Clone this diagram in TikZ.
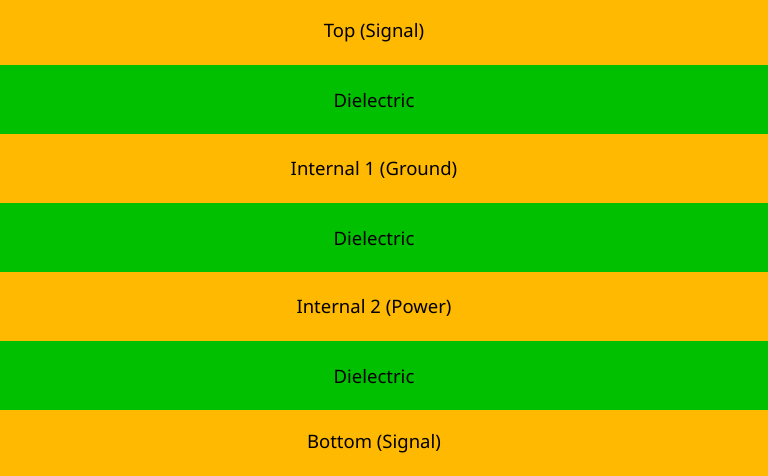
\documentclass[tikz,border=0pt]{standalone}
\usepackage{fontspec}
\setmainfont{Noto Sans}
\definecolor{copper}{HTML}{FFB900}
\definecolor{dielec}{HTML}{00C000}
\tikzset{
  layer/.style={font=\fontsize{18.5}{22}\selectfont, text=black, inner sep=0pt}
}
\begin{document}
\begin{tikzpicture}[x=1pt,y=-1pt]
    \useasboundingbox (0,0) rectangle (768,476);
    \fill[copper] (0,0) rectangle (768,65);
    \fill[dielec] (0,65) rectangle (768,134);
    \fill[copper] (0,134) rectangle (768,203);
    \fill[dielec] (0,203) rectangle (768,272);
    \fill[copper] (0,272) rectangle (768,341);
    \fill[dielec] (0,341) rectangle (768,410);
    \fill[copper] (0,410) rectangle (768,476);
    \node[layer] (top) at (374,33) {Top (Signal)};
    \node[layer] (diel1) at (374,101) {Dielectric};
    \node[layer] (gnd) at (374,170) {Internal 1 (Ground)};
    \node[layer] (diel2) at (374,239) {Dielectric};
    \node[layer] (pwr) at (374,307.5) {Internal 2 (Power)};
    \node[layer] (diel3) at (374,376.5) {Dielectric};
    \node[layer] (bot) at (374,444) {Bottom (Signal)};
\end{tikzpicture}
\end{document}
